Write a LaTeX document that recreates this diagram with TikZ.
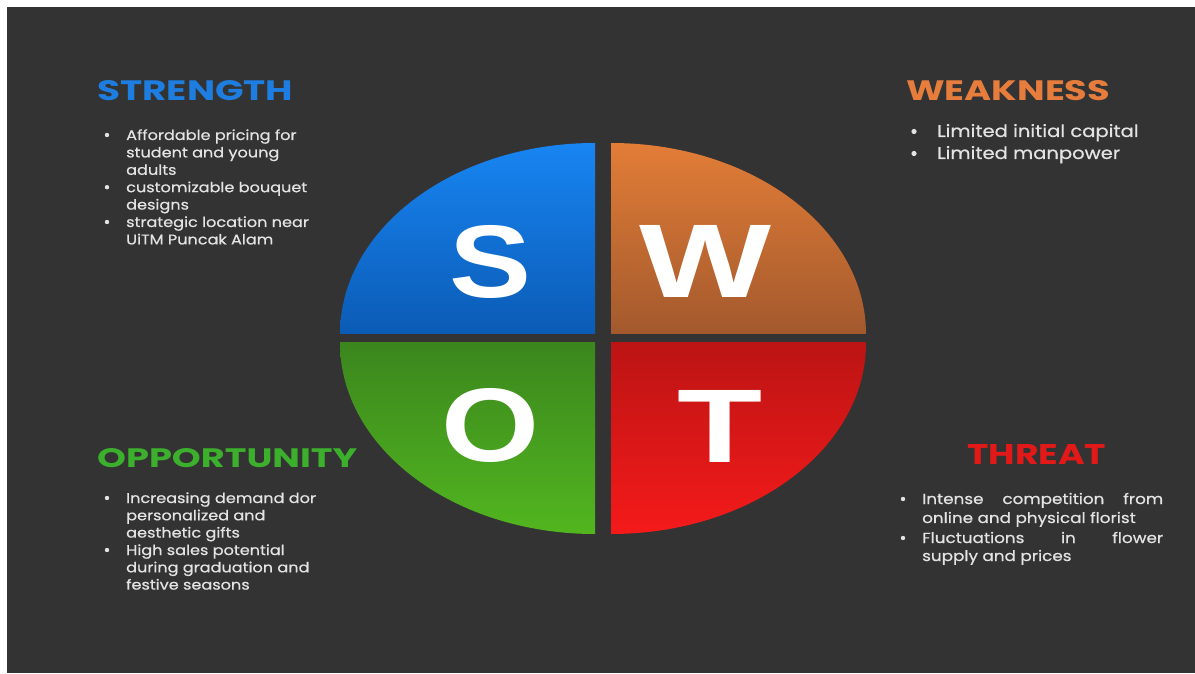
\documentclass[tikz,border=0pt]{standalone}
\usepackage{fontspec}
\setmainfont{Poppins}
\newfontfamily\letterfont{Liberation Sans}
\newfontfamily\bodyfont{Poppins}[FakeStretch=1.15, FakeBold=0.6]
\definecolor{bgdark}{HTML}{333333}
\definecolor{bodytext}{HTML}{E3E3E3}
\definecolor{sBlueTop}{HTML}{1885F2}
\definecolor{sBlueBot}{HTML}{0B5BB5}
\definecolor{wOrangeTop}{HTML}{E27D37}
\definecolor{wOrangeBot}{HTML}{A3592D}
\definecolor{oGreenTop}{HTML}{3B861E}
\definecolor{oGreenBot}{HTML}{52B61F}
\definecolor{tRedTop}{HTML}{BC1414}
\definecolor{tRedBot}{HTML}{F51A1A}
\definecolor{headBlue}{HTML}{1E7DE0}
\definecolor{headOrange}{HTML}{E67D3C}
\definecolor{headGreen}{HTML}{3CAF2D}
\definecolor{headRed}{HTML}{E11919}
\tikzset{
  bigletter/.style={text=white, inner sep=0pt, anchor=base, font=\letterfont\bfseries},
  heading/.style={inner sep=0pt, anchor=base west, font=\bfseries},
  bodyline/.style={inner sep=0pt, anchor=base west, text=bodytext, font=\bodyfont\fontsize{14}{17}\selectfont},
  threatline/.style={bodyline, font=\bodyfont\fontsize{14.6}{17}\selectfont},
  bigline/.style={inner sep=0pt, anchor=base west, text=bodytext, font=\bodyfont\fontsize{17}{20}\selectfont},
  dot/.style={circle, fill=bodytext, inner sep=0pt, minimum size=4.4pt},
  bigdot/.style={circle, fill=bodytext, inner sep=0pt, minimum size=5.2pt},
}
\begin{document}
\begin{tikzpicture}[x=1pt,y=1pt]
\useasboundingbox (0,0) rectangle (1195,673);
\fill[white] (0,0) rectangle (1195,673);
\fill[bgdark] (7,0) rectangle (1195,666);

% four quarters of the SWOT ellipse
\begin{scope}
  \clip (595,339) ellipse [x radius=255, y radius=191];
  \shade[top color=sBlueTop, bottom color=sBlueBot] (340,339) rectangle (595,530);
\end{scope}
\begin{scope}
  \clip (611,339) ellipse [x radius=255, y radius=191];
  \shade[top color=wOrangeTop, bottom color=wOrangeBot] (611,339) rectangle (866,530);
\end{scope}
\begin{scope}
  \clip (595,330) ellipse [x radius=255, y radius=191];
  \shade[top color=oGreenTop, bottom color=oGreenBot] (340,139) rectangle (595,330);
\end{scope}
\begin{scope}
  \clip (611,330) ellipse [x radius=255, y radius=191];
  \shade[top color=tRedTop, bottom color=tRedBot] (611,139) rectangle (866,330);
\end{scope}

% quadrant letters
\node[bigletter] (letterS) at (491,376) {\resizebox{82pt}{72pt}{S}};
\node[bigletter] (letterW) at (706,376) {\resizebox{132pt}{72pt}{W}};
\node[bigletter] (letterO) at (490.5,211.5) {\resizebox{98pt}{73pt}{O}};
\node[bigletter] (letterT) at (720.5,211) {\resizebox{85pt}{72pt}{T}};

% headings
\node[heading, text=headBlue] (hS) at (97,572) {\resizebox{196pt}{20pt}{STRENGTH}};
\node[heading, text=headOrange] (hW) at (906,572) {\resizebox{204pt}{20pt}{WEAKNESS}};
\node[heading, text=headGreen] (hO) at (97,206) {\resizebox{260pt}{19pt}{OPPORTUNITY}};
\node[heading, text=headRed] (hT) at (967,208) {\resizebox{139pt}{20pt}{THREAT}};

% strengths
\foreach \ty/\txt [count=\i] in {533/Affordable pricing for, 515.6/student and young,
    498.2/adults, 480.8/customizable bouquet, 463.4/designs,
    446/strategic location near, 428.6/UiTM Puncak Alam}
  \node[bodyline] (sl\i) at (126,\ty) {\txt};
\node[dot] (sd1) at (107,538) {};
\node[dot] (sd2) at (107,485.8) {};
\node[dot] (sd3) at (107,451) {};

% weaknesses
\node[bigline] (wl1) at (937,536) {Limited initial capital};
\node[bigline] (wl2) at (937,514) {Limited manpower};
\node[bigdot] (wd1) at (914,541.5) {};
\node[bigdot] (wd2) at (914,519.5) {};

% opportunities
\foreach \ty/\txt [count=\i] in {170/Increasing demand dor, 152.7/personalized and,
    135.4/aesthetic gifts, 118/High sales potential,
    100.7/during graduation and, 83.4/festive seasons}
  \node[bodyline] (ol\i) at (126,\ty) {\txt};
\node[dot] (od1) at (107,175) {};
\node[dot] (od2) at (107,123) {};

% threats
\node[threatline] (tl1) at (922,169) {\makebox[241pt][s]{Intense competition from}};
\node[threatline] (tl2) at (922,150) {online and physical florist};
\node[threatline] (tl3) at (922,130) {\makebox[241pt][s]{Fluctuations in flower}};
\node[threatline] (tl4) at (922,112) {supply and prices};
\node[dot] (td1) at (903,174) {};
\node[dot] (td2) at (903,135) {};
\end{tikzpicture}
\end{document}
